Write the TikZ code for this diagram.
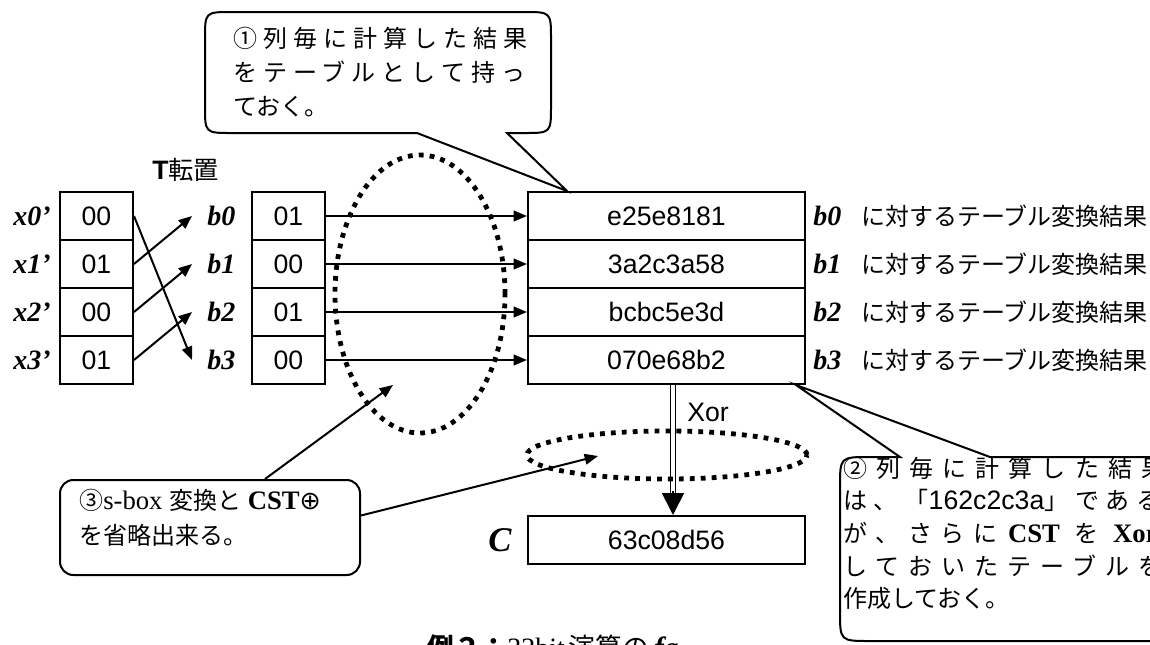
\documentclass[tikz,border=0pt]{standalone}
\usepackage{fontspec}
\setmainfont{Liberation Serif}
\setsansfont{Liberation Sans}
\newfontfamily\jp{Noto Sans CJK JP}
\newfontfamily\dv{DejaVu Sans}
\usetikzlibrary{arrows.meta,shapes.geometric,calc}
\begin{document}
\begin{tikzpicture}[x=0.75pt,y=-0.75pt,
  every node/.style={inner sep=0pt},
  cell/.style={draw, line width=1.5pt, minimum width=54.75pt, minimum height=36pt, font=\sffamily\fontsize{20}{22}\selectfont},
  wide/.style={cell, minimum width=207.75pt},
  lab/.style={font=\bfseries\itshape\fontsize{21}{23}\selectfont},
  jtxt/.style={font=\fontsize{18}{20}\selectfont, anchor=west},
  arr/.style={line width=1.5pt, -{Triangle[length=10pt,width=8pt]}},
  dots/.style={draw, ellipse, line width=3.6pt, dash pattern=on 3.6pt off 4.6pt},
  bubble/.style={draw, line width=1.5pt, fill=white, line join=miter}
]
\useasboundingbox (0,0) rectangle (1150,644);
\clip (0,0) rectangle (1150,644);

% title of transposition
\node[jtxt] (tt) at (152,170) {{\sffamily\bfseries\fontsize{20}{22}\selectfont T}{\jp\fontsize{19}{21}\selectfont 転置}};

% left column x', middle column b, table
\foreach \i/\v/\w/\t in {0/00/01/e25e8181,1/01/00/3a2c3a58,2/00/01/bcbc5e3d,3/01/00/070e68b2}{
  \node[cell] (x\i) at (96.5,{216+48*\i}) {\v};
  \node[lab, anchor=east] (lx\i) at (51,{216+48*\i}) {x\i’};
  \node[cell] (b\i) at (288.5,{216+48*\i}) {\w};
  \node[lab, anchor=west] (lb\i) at (207,{216+48*\i}) {b\i};
  \node[wide] (t\i) at (666.5,{216+48*\i}) {\t};
  \node[jtxt] (r\i) at (813,{216+48*\i}) {{\bfseries\itshape\fontsize{21}{23}\selectfont b\i}\hspace{15pt}{\jp に対するテーブル変換結果}};
  \draw[arr] (b\i.east) -- (t\i.west);
}

% transposition arrows
\draw[arr] (x0.east) -- ($(lb3.west)+(-15,0)$);
\draw[arr] (x1.east) -- ($(lb0.west)+(-15,0)$);
\draw[arr] (x2.east) -- ($(lb1.west)+(-15,0)$);
\draw[arr] (x3.east) -- ($(lb2.west)+(-15,0)$);

% result
\node[wide] (C) at (666.5,540) {63c08d56};
\node[font=\bfseries\itshape\fontsize{26}{28}\selectfont] (lc) at (500,540) {C};

% Xor double arrow
\coordinate (xa) at ($(t3.south)+(6.5,0)$);
\coordinate (xb) at ($(C.north)+(6.5,0)$);
\draw[line width=1.2pt, double, double distance=2.6pt] (xa) -- ($(xb)+(0,-21)$);
\draw[line width=1.2pt, -{Triangle[length=16.5pt,width=16.5pt]}] ($(xb)+(0,-24)$) -- (xb);
\node[font=\sffamily\fontsize{20}{22}\selectfont, anchor=west] (xor) at (687,412) {Xor};

% dotted ellipses
\node[dots, minimum width=127.5pt, minimum height=208.5pt] (e1) at (420,294) {};
\node[dots, minimum width=210pt, minimum height=36pt] (e2) at (667,455) {};

% callout 1
\coordinate (p1) at ($(t0.north west)+(40,0)$);
\draw[bubble] (232,12) -- (524,12) .. controls (551,12) .. (551,39) -- (551,106)
  .. controls (551,133) .. (524,133) -- (507,133) -- (p1) -- (417,133) -- (232,133)
  .. controls (205,133) .. (205,106) -- (205,39) .. controls (205,12) .. (232,12) -- cycle;
\node[jtxt] (n1a) at (233,38) {\jp\addfontfeature{LetterSpace=25}①列毎に計算した結果};
\node[jtxt] (n1b) at (233,72) {\jp\addfontfeature{LetterSpace=25}をテーブルとして持っ};
\node[jtxt] (n1c) at (233,107) {\jp ておく。};

% callout 2
\coordinate (p2) at ($(t3.south east)+(-10,0)$);
\draw[bubble] (1200,457) -- (990,457) -- (p2) -- (900,457) -- (870,457)
  .. controls (840,457) .. (840,487) -- (840,611) .. controls (840,641) .. (870,641) -- (1200,641);
\node[jtxt] (n2a) at (843,468) {\jp\addfontfeature{LetterSpace=38}②列毎に計算した結果};
\node[jtxt] (n2b) at (843,500) {{\jp\addfontfeature{LetterSpace=28}は、「}{\sffamily\fontsize{20}{22}\selectfont 162c2c3a}{\jp\addfontfeature{LetterSpace=28}」である}};
\node[jtxt] (n2c) at (843,533) {{\jp\addfontfeature{LetterSpace=36}が、さらに}\hspace{8pt}{\bfseries\fontsize{20}{22}\selectfont CST}\hspace{11pt}{\jp を}\hspace{11pt}{\bfseries\fontsize{20}{22}\selectfont Xor}};
\node[jtxt] (n2d) at (843,566) {\jp\addfontfeature{LetterSpace=38}しておいたテーブルを};
\node[jtxt] (n2e) at (843,598) {\jp 作成しておく。};

% callout 3
\node[draw, line width=1.5pt, rounded corners=10pt, minimum width=225pt, minimum height=71.25pt, fill=white] (c3) at (210,527.5) {};
\node[jtxt] (c3a) at (79,500) {{\jp ③}{\fontsize{20}{22}\selectfont s-box}\hspace{5pt}{\jp 変換と}\hspace{5pt}{\bfseries\fontsize{20}{22}\selectfont CST}{\dv\fontsize{19}{21}\selectfont ⊕}};
\node[jtxt] (c3b) at (79,535) {\jp を省略出来る。};
\coordinate (q1) at (393,385);
\coordinate (q2) at (598,456);
\draw[arr] ($(c3.north)+(55,0)$) -- (q1);
\draw[arr] ($(c3.east)+(0,-12)$) -- (q2);

% caption
\node[font=\fontsize{20}{22}\selectfont, anchor=base] (cap) at (553,657)
  {{\jp\bfseries 例２：}{\fontsize{21}{23}\selectfont 32bit}\hspace{3pt}{\jp 演算の}\hspace{4pt}{\bfseries\itshape\fontsize{22}{24}\selectfont fa}};
\end{tikzpicture}
\end{document}
